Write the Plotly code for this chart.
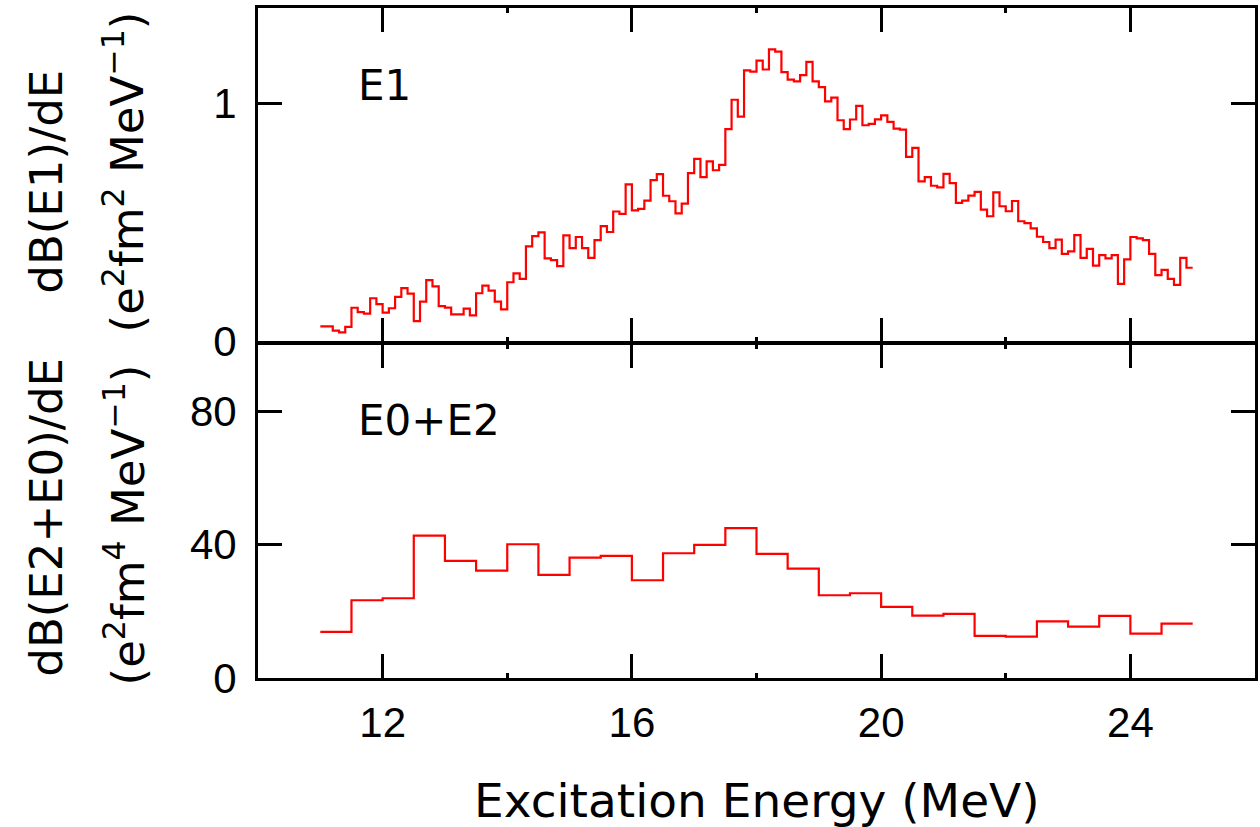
import numpy as np
import plotly.graph_objects as go

# ---------------- data ----------------
# E1 strength histogram: 0.1 MeV bins from 11.0 to 25.0 MeV
E1_START, E1_STOP, E1_WIDTH = 11.0, 25.0, 0.1
e1_values = [
    0.064, 0.064, 0.046, 0.039, 0.062, 0.142, 0.124, 0.117, 0.182, 0.157,   # 11.0-11.9
    0.122, 0.140, 0.188, 0.224, 0.201, 0.086, 0.168, 0.258, 0.232, 0.149,   # 12.0-12.9
    0.143, 0.114, 0.114, 0.138, 0.110, 0.203, 0.235, 0.214, 0.168, 0.135,   # 13.0-13.9
    0.249, 0.286, 0.263, 0.400, 0.443, 0.458, 0.349, 0.342, 0.317, 0.446,   # 14.0-14.9
    0.392, 0.439, 0.392, 0.351, 0.426, 0.485, 0.460, 0.546, 0.536, 0.660,   # 15.0-15.9
    0.551, 0.557, 0.592, 0.678, 0.703, 0.612, 0.589, 0.538, 0.579, 0.707,   # 16.0-16.9
    0.767, 0.690, 0.756, 0.719, 0.742, 0.892, 1.015, 0.944, 1.138, 1.133,   # 17.0-17.9
    1.179, 1.142, 1.226, 1.217, 1.131, 1.099, 1.092, 1.118, 1.174, 1.092,   # 18.0-18.9
    1.068, 1.008, 1.024, 0.929, 0.892, 0.932, 0.989, 0.908, 0.914, 0.933,   # 19.0-19.9
    0.949, 0.922, 0.894, 0.890, 0.775, 0.813, 0.672, 0.690, 0.654, 0.647,   # 20.0-20.9
    0.704, 0.665, 0.582, 0.592, 0.613, 0.628, 0.554, 0.526, 0.626, 0.568,   # 21.0-21.9
    0.547, 0.590, 0.505, 0.497, 0.475, 0.440, 0.418, 0.392, 0.428, 0.368,   # 22.0-22.9
    0.379, 0.447, 0.351, 0.389, 0.319, 0.363, 0.349, 0.363, 0.242, 0.345,   # 23.0-23.9
    0.439, 0.433, 0.426, 0.368, 0.279, 0.301, 0.263, 0.238, 0.351, 0.310,   # 24.0-24.9
]

# E0+E2 strength histogram: 0.5 MeV bins from 11.0 to 25.0 MeV
E2_START, E2_STOP, E2_WIDTH = 11.0, 25.0, 0.5
e02_values = [
    13.8, 23.3, 23.9, 42.7, 35.1, 32.2, 40.1, 30.9, 36.1, 36.6,
    29.3, 37.4, 39.9, 44.9, 37.2, 32.8, 24.8, 25.4, 21.3, 18.7,
    19.2, 12.6, 12.4, 17.0, 15.4, 18.6, 13.3, 16.3,
]

x_range = [10, 26]
x_tickvals = [12, 16, 20, 24]
y1_range = [0, 1.4]
y1_tickvals = [0, 1]
y2_range = [0, 100]
y2_tickvals = [0, 40, 80]

x_title = "Excitation Energy (MeV)"
y1_title = ["dB(E1)/dE", "(e<sup>2</sup>fm<sup>2</sup> MeV<sup>\u22121</sup>)"]
y2_title = ["dB(E2+E0)/dE", "(e<sup>2</sup>fm<sup>4</sup> MeV<sup>\u22121</sup>)"]
panel_labels = ["E1", "E0+E2"]

# ---------------- figure ----------------
TICKFONT = "Liberation Sans, Arial, sans-serif"
TEXTFONT = "DejaVu Sans, Liberation Sans, sans-serif"
RED = "#ff0000"
LW = 2.8
PLOT_H = 827 - 8 - 149
gap = (LW / 2) / PLOT_H  # so the two shared border lines coincide


def step_xy(start, stop, width, vals):
    n = len(vals)
    edges = np.linspace(start, stop, n + 1)
    return edges, list(vals) + [vals[-1]]


fig = go.Figure()
x1, y1 = step_xy(E1_START, E1_STOP, E1_WIDTH, e1_values)
fig.add_trace(go.Scatter(x=x1, y=y1, mode="lines", line=dict(color=RED, width=2.2, shape="hv"),
                         xaxis="x", yaxis="y", showlegend=False, hoverinfo="skip"))
x2, y2 = step_xy(E2_START, E2_STOP, E2_WIDTH, e02_values)
fig.add_trace(go.Scatter(x=x2, y=y2, mode="lines", line=dict(color=RED, width=2.2, shape="hv"),
                         xaxis="x2", yaxis="y2", showlegend=False, hoverinfo="skip"))

common = dict(showline=True, linecolor="black", linewidth=LW, mirror="allticks",
              ticks="inside", ticklen=24, tickwidth=2.5, tickcolor="black",
              showgrid=False, zeroline=False,
              tickfont=dict(family=TICKFONT, size=42, color="black"))

xcommon = dict(common, range=x_range, tickvals=x_tickvals,
               minor=dict(dtick=2, tick0=0, ticks="inside", ticklen=5, tickwidth=2.5, tickcolor="black"))

fig.update_layout(
    width=1260, height=827,
    margin=dict(l=258, r=2, t=8, b=149),
    paper_bgcolor="white", plot_bgcolor="white",
    xaxis=dict(xcommon, domain=[0, 1], anchor="y", showticklabels=False),
    xaxis2=dict(xcommon, domain=[0, 1], anchor="y2", showticklabels=True, ticklabelstandoff=6),
    yaxis=dict(common, domain=[0.5 + gap, 1], anchor="x", range=y1_range, tickvals=y1_tickvals,
               ticklabelstandoff=10),
    yaxis2=dict(common, domain=[0, 0.5 - gap], anchor="x2", range=y2_range, tickvals=y2_tickvals,
                ticklabelstandoff=10),
)

lab_font = dict(family=TEXTFONT, size=42, color="black")
ytitle_font = dict(family=TEXTFONT, size=45, color="black")
annotations = [
    dict(text=panel_labels[0], x=0.098, y=0.8836, xref="paper", yref="paper",
         xanchor="left", yanchor="middle", showarrow=False, font=lab_font),
    dict(text=panel_labels[1], x=0.098, y=0.3836, xref="paper", yref="paper",
         xanchor="left", yanchor="middle", showarrow=False, font=lab_font),
    dict(text=x_title, x=0.5, y=0, xref="paper", yref="paper", xanchor="center",
         yanchor="middle", yshift=-122, showarrow=False,
         font=dict(family=TEXTFONT, size=47, color="black")),
    dict(text=y1_title[0], x=-0.213, y=(678 - 182) / PLOT_H, xref="paper", yref="paper", textangle=-90,
         xanchor="center", yanchor="middle", showarrow=False, font=ytitle_font),
    dict(text=y1_title[1], x=-0.133, y=(678 - 172) / PLOT_H, xref="paper", yref="paper", textangle=-90,
         xanchor="center", yanchor="middle", showarrow=False, font=ytitle_font),
    dict(text=y2_title[0], x=-0.213, y=(678 - 517) / PLOT_H, xref="paper", yref="paper", textangle=-90,
         xanchor="center", yanchor="middle", showarrow=False, font=ytitle_font),
    dict(text=y2_title[1], x=-0.133, y=(678 - 525) / PLOT_H, xref="paper", yref="paper", textangle=-90,
         xanchor="center", yanchor="middle", showarrow=False, font=ytitle_font),
]
fig.update_layout(annotations=annotations)

fig.write_html("out.html")
